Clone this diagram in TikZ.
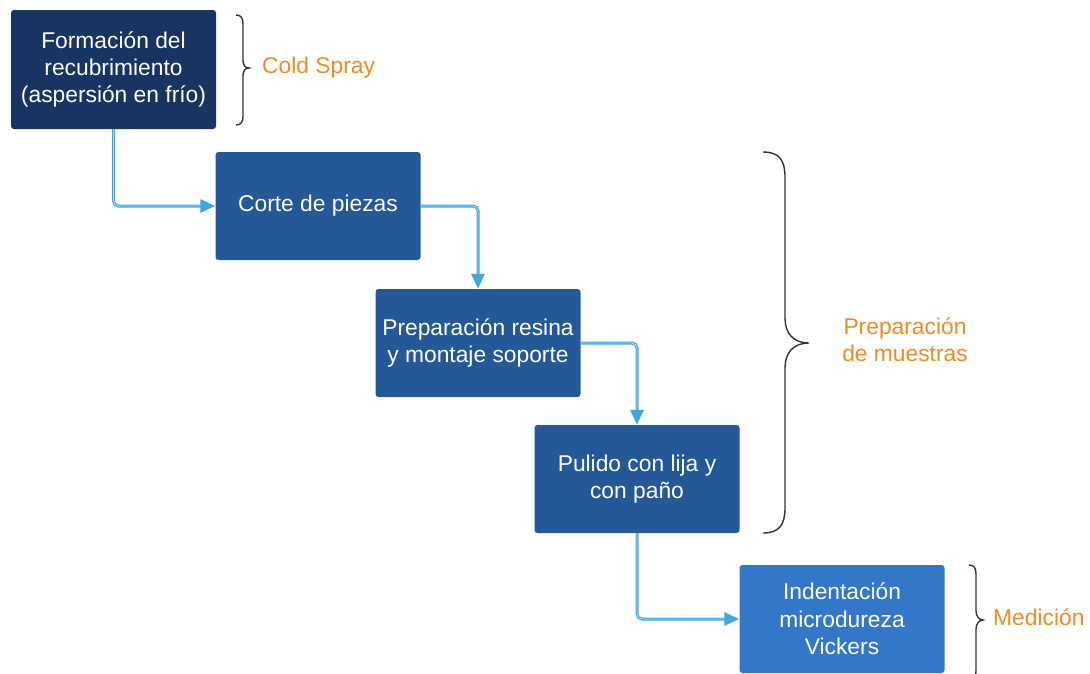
\documentclass[tikz,border=0pt]{standalone}
\usepackage{fontspec}
\setmainfont{Liberation Sans}
\usetikzlibrary{arrows.meta}
\definecolor{navy}{HTML}{173462}
\definecolor{midblue}{HTML}{245897}
\definecolor{lightblue}{HTML}{3277C8}
\definecolor{conn}{HTML}{3EA6E0}
\definecolor{connin}{HTML}{A8D8F3}
\definecolor{orng}{HTML}{F08A24}
\definecolor{brc}{HTML}{333333}
\tikzset{
  box/.style={rectangle, rounded corners=3pt, minimum width=205pt, minimum height=108pt,
    text=white, align=center, inner sep=0pt, font=\fontsize{22.8}{27.3}\selectfont},
  conn/.style={draw=conn, line width=3pt, rounded corners=5pt,
    -{Triangle[length=15pt,width=13pt]},
    postaction={draw=connin, line width=0.9pt, shorten >=15pt, -}},
  brace/.style={draw=brc, line width=1.4pt},
  lab/.style={text=orng, align=center, font=\fontsize{22.8}{27.3}\selectfont, inner sep=0pt}
}
\begin{document}
\begin{tikzpicture}[x=1pt,y=-1pt]
\useasboundingbox (0,0) rectangle (1090,673);
\node[box, fill=navy, minimum height=119pt] (b1) at (113.5,69.5) {Formación del\\recubrimiento\\(aspersión en frío)};
\node[box, fill=midblue] (b2) at (318,206) {Corte de piezas};
\node[box, fill=midblue] (b3) at (478,343) {Preparación resina\\y montaje soporte};
\node[box, fill=midblue] (b4) at (637,479) {Pulido con lija y\\con paño};
\node[box, fill=lightblue] (b5) at (842,619) {Indentación\\microdureza\\Vickers};
\draw[conn] (b1.south) |- (b2.west);
\draw[conn] (b2.east) -| (b3.north);
\draw[conn] (b3.east) -| (b4.north);
\draw[conn] (b4.south) |- (b5.west);
% braces
\coordinate (c1t) at (236,15);
\coordinate (c1p) at (249,68);
\coordinate (c1b) at (236,125);
\draw[brace] (c1t) .. controls (241,15) and (243,18) .. (243,24) -- (243,60) .. controls (243,65) and (245,68) .. (c1p) .. controls (245,68) and (243,71) .. (243,76) -- (243,116) .. controls (243,122) and (241,125) .. (c1b);
\node[lab, anchor=west] (l1) at (262,68) {Cold Spray};
\coordinate (c2t) at (763,152);
\coordinate (c2p) at (809,343);
\coordinate (c2b) at (763,533);
\draw[brace] (c2t) .. controls (779,152) and (785,160) .. (785,177) -- (785,318) .. controls (785,333) and (793,343) .. (c2p) .. controls (793,343) and (785,353) .. (785,368) -- (785,508) .. controls (785,525) and (779,533) .. (c2b);
\node[lab] (l2) at (905,340) {Preparación\\de muestras};
\coordinate (c3t) at (969,565);
\coordinate (c3p) at (983,620);
\coordinate (c3b) at (969,680);
\draw[brace] (c3t) .. controls (974,565) and (976,568) .. (976,574) -- (976,611) .. controls (976,616) and (979,620) .. (c3p) .. controls (979,620) and (976,624) .. (976,629) -- (976,671) .. controls (976,677) and (974,680) .. (c3b);
\node[lab, anchor=west] (l3) at (993,617) {Medición};
\end{tikzpicture}
\end{document}
